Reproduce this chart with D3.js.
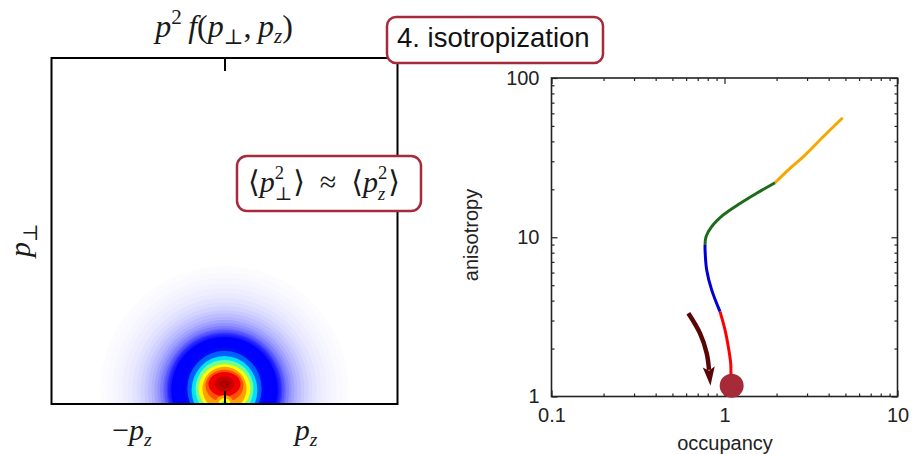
<!DOCTYPE html>
<html>
<head>
<meta charset="utf-8">
<script src="https://cdn.jsdelivr.net/npm/d3@7"></script>
<style>
  body { margin: 0; background: #fff; }
  svg { display: block; }
  .math { font-family: "Liberation Serif", "DejaVu Serif", serif; fill: #1a1a1a; }
  .sans { font-family: "Liberation Sans", Arial, sans-serif; }
</style>
</head>
<body>
<svg id="chart" width="912" height="454"></svg>
<script>
// DATA ////////////////////////////////////////////////////////////////////////

// left panel: p^2 f(p_perp, p_z), contour bands (momentum units)
var pzRange = [-4, 4];
var pperpRange = [0, 8];
// faint halo, round bands centred just above the axis
var haloLevels = [0.004, 0.008, 0.012, 0.016, 0.022, 0.028, 0.036, 0.045, 0.057, 0.07, 0.085, 0.10, 0.12, 0.14, 0.165, 0.19, 0.22, 0.25, 0.28, 0.30, 0.33];
var haloRadius = [2.87, 2.73, 2.59, 2.47, 2.36, 2.24, 2.13, 2.03, 1.94, 1.85, 1.77, 1.69, 1.62, 1.55, 1.49, 1.43, 1.39, 1.34, 1.31, 1.27, 1.23];
var haloCentre = 0.32;
// core bands
var coreLevels     = [0.36, 0.44, 0.52, 0.60, 0.68, 0.76, 0.82, 0.88, 0.94, 0.98];
var coreCentre     = [0.31, 0.35, 0.32, 0.35, 0.36, 0.35, 0.42, 0.46, 0.46, 0.46];
var coreHalfWidth  = [0.92, 0.86, 0.76, 0.67, 0.60, 0.51, 0.44, 0.37, 0.23, 0.12];
var coreHalfHeight = [1.01, 0.88, 0.79, 0.67, 0.56, 0.51, 0.37, 0.28, 0.18, 0.09];
// dip at the origin (p^2 -> 0)
var dipLevels = [0.76, 0.68, 0.58];
var dipRadius = [0.21, 0.14, 0.07];

// right panel: anisotropy vs occupancy
var occMajor = [0.1, 1, 10];
var occTickLabels = ["0.1", "1", "10"];
var occMinor = [0.2, 0.3, 0.4, 0.5, 0.6, 0.7, 0.8, 0.9, 2, 3, 4, 5, 6, 7, 8, 9];
var anisoMajor = [1, 10, 100];
var anisoTickLabels = ["1", "10", "100"];
var anisoMinor = [2, 3, 4, 5, 6, 7, 8, 9, 20, 30, 40, 50, 60, 70, 80, 90];

var stage1 = [[4.82, 56.3], [3.72, 42.8], [2.85, 32.0], [2.39, 27.1], [1.96, 22.0]];
var stage2 = [[1.96, 22.0], [1.535, 18.9], [1.229, 16.3], [0.984, 13.8], [0.843, 11.65], [0.782, 10.08], [0.772, 8.94]];
var stage3 = [[0.772, 8.94], [0.772, 8.32], [0.789, 6.23], [0.843, 4.67], [0.942, 3.41]];
var stage4 = [[0.942, 3.41], [1.007, 2.62], [1.052, 2.055], [1.086, 1.616], [1.09, 1.40], [1.10, 1.17]];
var endState = [1.10, 1.17];
var arrowPts = [[0.618, 3.33], [0.722, 2.49], [0.789, 1.87], [0.814, 1.47]];

// SETUP ///////////////////////////////////////////////////////////////////////

var svg = d3.select("#chart");
var BOX_RED = "#a52a3a";
var STAGE_COLOURS = ["#f6a800", "#1c6b1c", "#0000d4", "#ff0000"];

// jet colour map with a white floor
var colour = d3.scaleLinear()
    .domain([0, 0.33, 0.38, 0.44, 0.52, 0.6, 0.68, 0.76, 0.82, 0.88, 0.94, 1])
    .range(["#ffffff", "#0000ff", "#0010f0", "#0060ff", "#00e0ff", "#70ff90",
            "#ffff00", "#ffa000", "#ff5000", "#f00000", "#c80000", "#a00000"]);

// math text built from pieces: [text, italic, dy, scale, stacked]
function mathRow(x, y, size, items, anchor) {
    var g = svg.append("g");
    var cx = 0, pending = 0;
    items.forEach(function (it) {
        var t = g.append("text").attr("class", "math")
            .attr("x", cx).attr("y", it[2] || 0)
            .attr("font-size", size * (it[3] || 1))
            .attr("font-style", it[1] ? "italic" : "normal")
            .text(it[0]);
        var w = t.node().getComputedTextLength();
        if (it[4]) { pending = w; }
        else { cx += Math.max(w, pending) + (pending ? 1 : 0); pending = 0; }
    });
    var off = anchor == "middle" ? -cx / 2 : 0;
    g.attr("transform", "translate(" + (x + off) + "," + y + ")");
    return g;
}

// LEFT PANEL //////////////////////////////////////////////////////////////////

var xMom = d3.scaleLinear().domain(pzRange).range([51.5, 397.5]);
var yMom = d3.scaleLinear().domain(pperpRange).range([404, 58]);

svg.append("clipPath").attr("id", "clipMom")
  .append("rect")
    .attr("x", xMom(pzRange[0])).attr("y", yMom(pperpRange[1]))
    .attr("width", xMom(pzRange[1]) - xMom(pzRange[0]))
    .attr("height", yMom(pperpRange[0]) - yMom(pperpRange[1]));

var bands = haloLevels.map(function (l, i) {
    return { level: l, cy: haloCentre, rx: haloRadius[i], ry: haloRadius[i] };
}).concat(coreLevels.map(function (l, i) {
    return { level: l, cy: coreCentre[i], rx: coreHalfWidth[i], ry: coreHalfHeight[i] };
})).concat(dipLevels.map(function (l, i) {
    return { level: l, cy: 0, rx: dipRadius[i], ry: dipRadius[i] };
}));

var gMap = svg.append("g").attr("clip-path", "url(#clipMom)");
gMap.selectAll("ellipse")
    .data(bands)
    .enter().append("ellipse")
      .attr("cx", xMom(0))
      .attr("cy", function (d) { return yMom(d.cy); })
      .attr("rx", function (d) { return xMom(d.rx) - xMom(0); })
      .attr("ry", function (d) { return yMom(0) - yMom(d.ry); })
      .attr("fill", function (d) { return colour(d.level); });

// centre ticks, top and bottom
svg.append("g")
    .attr("transform", "translate(0," + yMom(pperpRange[1]) + ")")
    .call(d3.axisTop(xMom).tickValues([0]).tickSize(-13).tickFormat(""))
    .call(function (g) { g.select(".domain").remove(); g.selectAll("line").attr("stroke-width", 2); });
svg.append("g")
    .attr("transform", "translate(0," + yMom(0) + ")")
    .call(d3.axisBottom(xMom).tickValues([0]).tickSize(-13).tickFormat(""))
    .call(function (g) { g.select(".domain").remove(); g.selectAll("line").attr("stroke-width", 2); });

svg.append("rect")
    .attr("x", xMom(pzRange[0])).attr("y", yMom(pperpRange[1]))
    .attr("width", xMom(pzRange[1]) - xMom(pzRange[0]))
    .attr("height", yMom(pperpRange[0]) - yMom(pperpRange[1]))
    .attr("fill", "none").attr("stroke", "#000").attr("stroke-width", 2);

mathRow(224, 37, 32, [
    ["p", true], ["2", false, -13, 0.66], ["\u2009f", true], ["(", false], ["p", true],
    ["\u22a5", false, 7, 0.66], [",\u2009", false], ["p", true], ["z", true, 6, 0.66], [")", false]
], "middle");
mathRow(132, 440, 30, [["\u2212", false], ["p", true], ["z", true, 6, 0.66]], "middle");
mathRow(306, 440, 30, [["p", true], ["z", true, 6, 0.66]], "middle");
mathRow(0, 0, 30, [["p", true], ["\u22a5", false, 7, 0.66]], "middle")
    .attr("transform", "translate(30,240) rotate(-90) translate(-17,0)");

// RIGHT PANEL /////////////////////////////////////////////////////////////////

var xOcc = d3.scaleLog().domain([0.1, 10]).range([551.5, 897.5]);
var yAni = d3.scaleLog().domain([1, 100]).range([396.5, 78]);

function styleAxis(g) {
    g.select(".domain").remove();
    g.selectAll("line").attr("stroke", "#222").attr("stroke-width", 1.2);
    g.selectAll("text").attr("class", "sans").attr("font-size", 20).attr("fill", "#222");
}

// bottom
svg.append("g").attr("transform", "translate(0," + yAni(1) + ")")
    .call(d3.axisBottom(xOcc).tickValues(occMinor).tickSize(-3).tickFormat("")).call(styleAxis);
svg.append("g").attr("transform", "translate(0," + yAni(1) + ")")
    .call(d3.axisBottom(xOcc).tickValues(occMajor).tickSize(-6).tickPadding(11)
        .tickFormat(function (d, i) { return occTickLabels[i]; }))
    .call(styleAxis);
// top
svg.append("g").attr("transform", "translate(0," + yAni(100) + ")")
    .call(d3.axisTop(xOcc).tickValues(occMinor).tickSize(-3).tickFormat("")).call(styleAxis);
svg.append("g").attr("transform", "translate(0," + yAni(100) + ")")
    .call(d3.axisTop(xOcc).tickValues(occMajor).tickSize(-6).tickFormat("")).call(styleAxis);
// left
svg.append("g").attr("transform", "translate(" + xOcc(0.1) + ",0)")
    .call(d3.axisLeft(yAni).tickValues(anisoMinor).tickSize(-3).tickFormat("")).call(styleAxis);
svg.append("g").attr("transform", "translate(" + xOcc(0.1) + ",0)")
    .call(d3.axisLeft(yAni).tickValues(anisoMajor).tickSize(-6).tickPadding(12)
        .tickFormat(function (d, i) { return anisoTickLabels[i]; }))
    .call(styleAxis);
// right
svg.append("g").attr("transform", "translate(" + xOcc(10) + ",0)")
    .call(d3.axisRight(yAni).tickValues(anisoMinor).tickSize(-3).tickFormat("")).call(styleAxis);
svg.append("g").attr("transform", "translate(" + xOcc(10) + ",0)")
    .call(d3.axisRight(yAni).tickValues(anisoMajor).tickSize(-6).tickFormat("")).call(styleAxis);

svg.append("rect")
    .attr("x", xOcc(0.1)).attr("y", yAni(100))
    .attr("width", xOcc(10) - xOcc(0.1)).attr("height", yAni(1) - yAni(100))
    .attr("fill", "none").attr("stroke", "#222").attr("stroke-width", 1.6);

svg.append("text").attr("class", "sans")
    .attr("x", 725).attr("y", 450)
    .attr("text-anchor", "middle").attr("font-size", 20).attr("fill", "#222")
    .text("occupancy");
svg.append("text").attr("class", "sans")
    .attr("transform", "translate(478,235) rotate(-90)")
    .attr("text-anchor", "middle").attr("font-size", 20).attr("fill", "#222")
    .text("anisotropy");

var line = d3.line()
    .x(function (d) { return xOcc(d[0]); })
    .y(function (d) { return yAni(d[1]); })
    .curve(d3.curveCatmullRom);

svg.append("g").selectAll("path")
    .data([stage1, stage2, stage3, stage4])
    .enter().append("path")
      .attr("d", line)
      .attr("fill", "none")
      .attr("stroke", function (d, i) { return STAGE_COLOURS[i]; })
      .attr("stroke-width", 3);

svg.append("circle")
    .attr("cx", xOcc(endState[0])).attr("cy", yAni(endState[1]))
    .attr("r", 12).attr("fill", "#a62a38");

svg.append("marker")
    .attr("id", "head")
    .attr("markerUnits", "userSpaceOnUse")
    .attr("viewBox", "0 -7 20 14")
    .attr("markerWidth", 20).attr("markerHeight", 14)
    .attr("refX", 3).attr("refY", 0)
    .attr("orient", "auto")
  .append("path")
    .attr("d", "M0,-6L19,0L0,6L4,0Z")
    .attr("fill", "#5a0606");

svg.append("path")
    .attr("d", line(arrowPts))
    .attr("fill", "none")
    .attr("stroke", "#5a0606")
    .attr("stroke-width", 4.5)
    .attr("marker-end", "url(#head)");

// LABEL BOXES /////////////////////////////////////////////////////////////////

svg.append("rect")
    .attr("x", 387).attr("y", 17).attr("width", 216).attr("height", 46)
    .attr("rx", 9).attr("fill", "#fff").attr("stroke", BOX_RED).attr("stroke-width", 2.5);
svg.append("text").attr("class", "sans")
    .attr("x", 397).attr("y", 47)
    .attr("font-size", 27.5).attr("fill", "#111")
    .text("4. isotropization");

svg.append("rect")
    .attr("x", 237).attr("y", 156).attr("width", 184).attr("height", 55)
    .attr("rx", 10).attr("fill", "#fff").attr("stroke", BOX_RED).attr("stroke-width", 2.5);
mathRow(324, 192, 30, [
    ["\u27e8", false], ["p", true], ["2", false, -13, 0.62, true], ["\u22a5", false, 8, 0.62], ["\u27e9", false],
    ["\u2002\u2248\u2002", false],
    ["\u27e8", false], ["p", true], ["2", false, -13, 0.62, true], ["z", true, 8, 0.62], ["\u27e9", false]
], "middle");
</script>
</body>
</html>
